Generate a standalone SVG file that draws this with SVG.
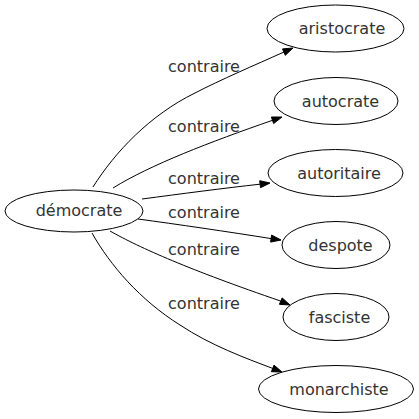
<svg xmlns="http://www.w3.org/2000/svg" width="419" height="419" viewBox="0 0 419 419">
<style>
.node ellipse{fill:none;stroke:#000;stroke-width:1}
text{font-family:"DejaVu Sans",sans-serif;font-size:16px;fill:#333;text-anchor:middle}
.edge path{fill:none;stroke:#000;stroke-width:1}
.edge polygon{fill:#000;stroke:#000;stroke-width:1}
</style>
<rect width="419" height="419" fill="#fff"/>
<g id="edges" class="edge">
<path d="M93,187 C115,152 150,115 195,93 C220,80 255,65 284,52"/>
<polygon points="293,48 285.3,55.3 282.5,48.9"/>
<text x="204" y="72">contraire</text>
<path d="M113,188 C150,165 210,142 272.5,120.3"/>
<polygon points="282,117 273.6,123.6 271.4,117"/>
<text x="204" y="132">contraire</text>
<path d="M142,199 C180,194 225,188 260,184.2"/>
<polygon points="270,183 260.5,187.7 259.7,180.7"/>
<text x="204" y="184">contraire</text>
<path d="M138,219 C175,224 230,232 271.1,238.6"/>
<polygon points="281,240 270.6,242.1 271.6,235.1"/>
<text x="204" y="218">contraire</text>
<path d="M110,231 C140,248 190,270 280.8,301.1"/>
<polygon points="290,305 279.4,304.3 282.2,297.9"/>
<text x="204" y="255">contraire</text>
<path d="M92,233 C110,265 140,300 180,325 C210,345 245,358 272.7,368.4"/>
<polygon points="282,372 271.4,371.7 274,365.1"/>
<text x="204" y="309">contraire</text>
</g>
<g id="democrate" class="node"><ellipse cx="74" cy="211" rx="69" ry="21"/><text x="79" y="216">démocrate</text></g>
<g id="aristocrate" class="node"><ellipse cx="335.5" cy="28.5" rx="68.5" ry="23.5"/><text x="342" y="33.5">aristocrate</text></g>
<g id="autocrate" class="node"><ellipse cx="336" cy="101" rx="62" ry="23.5"/><text x="340.5" y="106.5">autocrate</text></g>
<g id="autoritaire" class="node"><ellipse cx="335.5" cy="173" rx="67.5" ry="23.5"/><text x="339" y="178.5">autoritaire</text></g>
<g id="despote" class="node"><ellipse cx="336" cy="245" rx="54" ry="23.5"/><text x="340.5" y="250.5">despote</text></g>
<g id="fasciste" class="node"><ellipse cx="336" cy="317" rx="53" ry="23.5"/><text x="339.5" y="322.5">fasciste</text></g>
<g id="monarchiste" class="node"><ellipse cx="336" cy="389" rx="77.5" ry="23.5"/><text x="339" y="394.5">monarchiste</text></g>
</svg>
